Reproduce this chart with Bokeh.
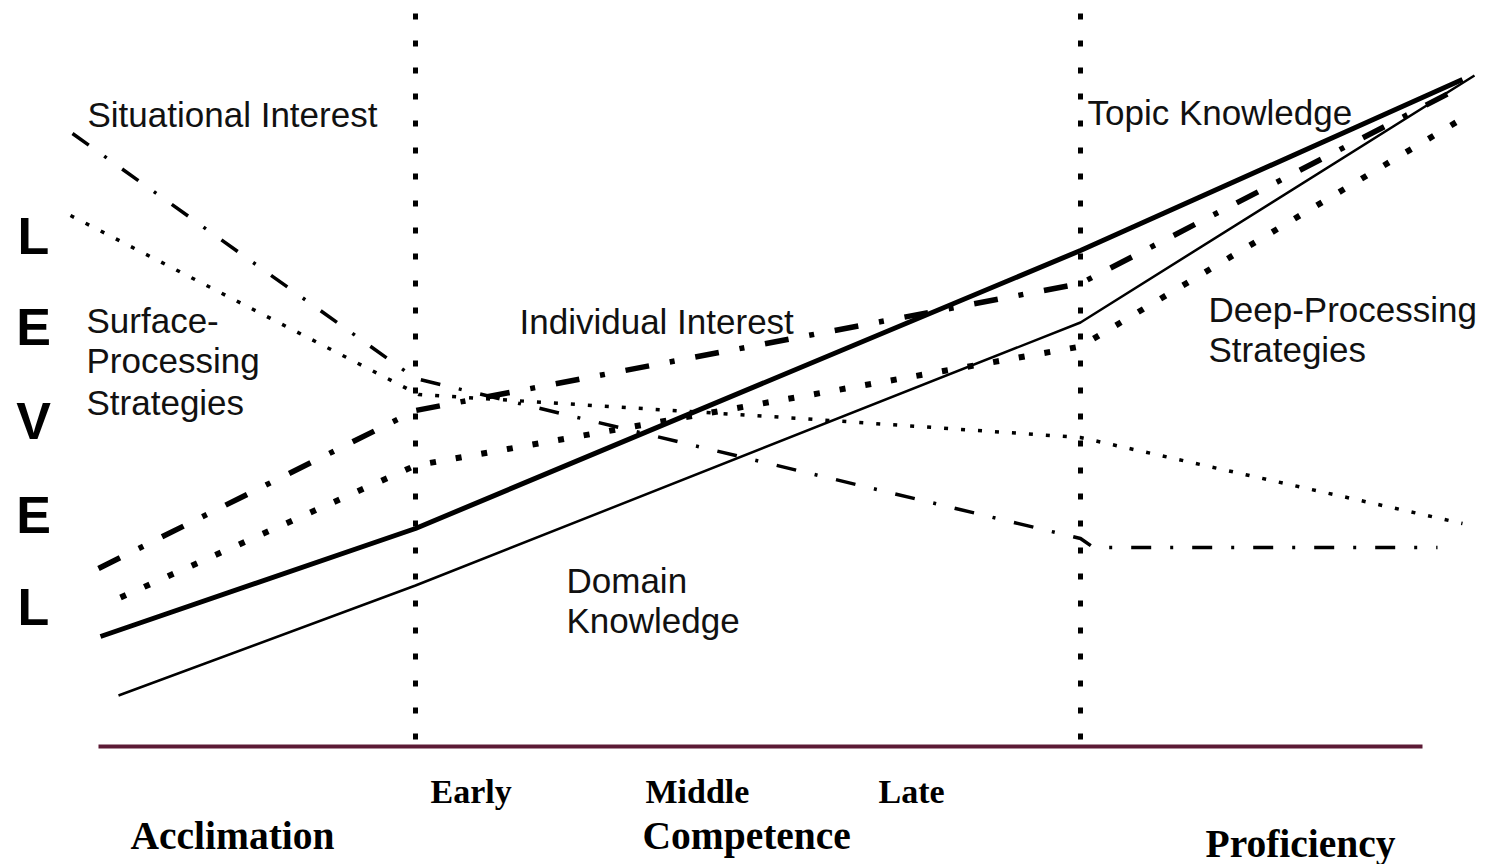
from bokeh.plotting import figure
from bokeh.models import Range1d
from bokeh.core.properties import value
from bokeh.embed import file_html
from bokeh.resources import INLINE

# ---- data: development position (x) vs. level (y) ----
stage_bounds = [317, 982]
axis_end = 1324

situational_x = [-26, 317, 982, 995, 1339]
situational_y = [613, 368, 208, 199, 199]

individual_x = [0, 317, 982, 1352]
individual_y = [178, 336, 463, 654]

topic_x = [2, 317, 982, 1364]
topic_y = [110, 218, 496, 667]

domain_x = [20, 317, 982, 1376]
domain_y = [51, 161, 424, 671]

surface_x = [-28, 320, 702, 982, 1364]
surface_y = [531, 352, 328, 309, 223]

deep_x = [22, 317, 982, 1364]
deep_y = [149, 281, 400, 628]

# ---- text labels ----
series_labels = ["Situational Interest", "Topic Knowledge", "Individual Interest",
                 "Surface-", "Processing", "Strategies",
                 "Deep-Processing", "Strategies",
                 "Domain", "Knowledge"]
series_lx = [-11, 989, 421, -12, -12, -12, 1110, 1110, 468, 468]
series_ly = [632, 634, 425, 426, 386, 344, 437, 397, 166, 126]

level_letters = ["L", "E", "V", "E", "L"]
level_ly = [511, 420, 326, 232, 140]
level_lx = [-65] * 5

substage_labels = ["Early", "Middle", "Late"]
substage_lx = [332, 547, 780]
substage_ly = [-45, -45, -45]

stage_labels = ["Acclimation", "Competence", "Proficiency"]
stage_lx = [32, 544, 1107]
stage_ly = [-89, -89, -97]

W, H = 1487, 864
p = figure(width=W, height=H, output_backend="svg", toolbar_location=None,
           x_range=Range1d(-98, -98 + W), y_range=Range1d(746 - H, 746),
           min_border=0)
p.axis.visible = False
p.grid.visible = False
p.outline_line_color = None
p.background_fill_color = "white"

# vertical stage boundaries (square-dotted), drawn from the top down
for b in stage_bounds:
    p.line([b, b], [733, 7], line_color="black", line_width=5,
           line_dash="6 21 6 21 6 20")

# horizontal development axis
p.line([0, axis_end], [0, 0], line_color="#5c1a35", line_width=4)

# series
p.line(topic_x, topic_y, line_color="black", line_width=5)
p.line(domain_x, domain_y, line_color="black", line_width=2.5)
p.line(individual_x, individual_y, line_color="black", line_width=5.5,
       line_dash="24 21 5 21")
p.line(situational_x, situational_y, line_color="black", line_width=3.5,
       line_dash="20 19 3 19")
p.line(surface_x, surface_y, line_color="black", line_width=3.5, line_dash="4 13")
p.line(deep_x, deep_y, line_color="black", line_width=6, line_dash="6 20")

# labels
p.text(x=series_lx, y=series_ly, text=series_labels,
       text_font=value("Liberation Sans"), text_font_size="35px",
       text_color="#111111", text_align="left", text_baseline="alphabetic")
p.text(x=level_lx, y=level_ly, text=level_letters,
       text_font=value("Liberation Sans"), text_font_size="52px",
       text_font_style="bold", text_color="black",
       text_align="center", text_baseline="alphabetic")
p.text(x=substage_lx, y=substage_ly, text=substage_labels,
       text_font=value("Liberation Serif"), text_font_size="34px",
       text_font_style="bold", text_color="black",
       text_align="left", text_baseline="alphabetic")
p.text(x=stage_lx, y=stage_ly, text=stage_labels,
       text_font=value("Liberation Serif"), text_font_size="39.5px",
       text_font_style="bold", text_color="black",
       text_align="left", text_baseline="alphabetic")

open("out.html", "w").write(file_html(p, INLINE))
